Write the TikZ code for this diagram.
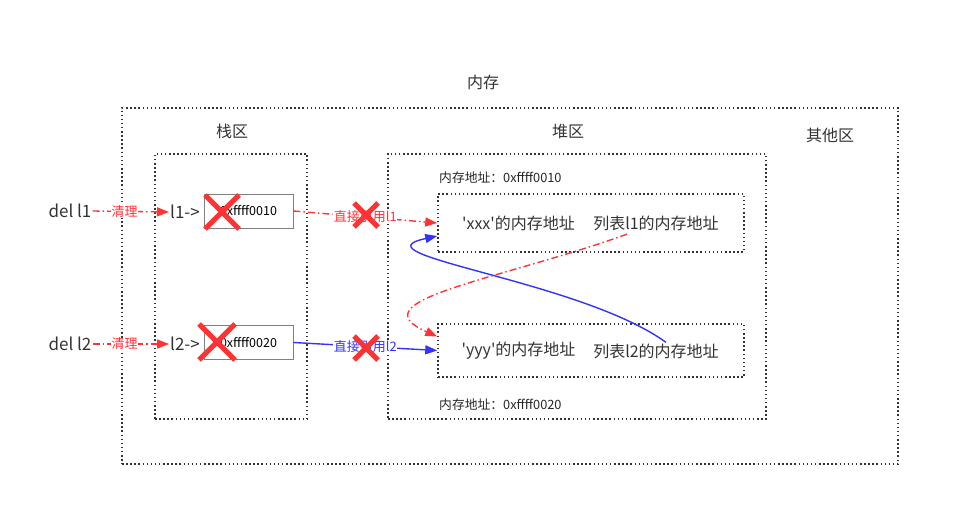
\documentclass[tikz,border=0pt]{standalone}
\usepackage{fontspec}
\newfontfamily\cjk{Noto Sans CJK SC}
\usetikzlibrary{arrows.meta,calc}
\definecolor{myred}{HTML}{FF3333}
\definecolor{myblue}{HTML}{3333FF}
\definecolor{dotc}{HTML}{333333}
\tikzset{
  region/.style={draw=dotc,line width=1.5pt,dash pattern=on 1.5pt off 2.6pt},
  valbox/.style={draw=gray,line width=0.9pt,minimum width=89pt,minimum height=34pt,inner sep=0pt,font=\cjk\fontsize{12.5}{12.5}\selectfont},
  big/.style={font=\cjk\fontsize{17}{17}\selectfont,text=black!80,inner sep=1pt},
  mid/.style={font=\cjk\fontsize{16}{16}\selectfont,text=black!80,inner sep=1pt},
  small/.style={font=\cjk\fontsize{12.8}{12.8}\selectfont,text=black!85,inner sep=1pt},
  redarrow/.style={draw=myred,line width=1.4pt,dash pattern=on 7pt off 3pt on 1.5pt off 3pt,-{Triangle[length=12pt,width=9pt]}},
  bluearrow/.style={draw=myblue,line width=1.4pt,-{Triangle[length=12pt,width=9pt]}},
  redlbl/.style={font=\cjk\fontsize{13}{13}\selectfont,text=myred,fill=white,inner sep=0.5pt},
  bluelbl/.style={font=\cjk\fontsize{13}{13}\selectfont,text=myblue,fill=white,inner sep=0.5pt},
  cross/.style={draw=myred,line width=5pt},
}
\begin{document}
\begin{tikzpicture}[x=1pt,y=-1pt]
\useasboundingbox (0,0) rectangle (960,526);
% regions
\node[region,minimum width=776pt,minimum height=356pt,inner sep=0pt] (mem) at (510,286) {};
\node[mid] (memlbl) at (483,82) {内存};
\node[region,minimum width=152pt,minimum height=265pt,inner sep=0pt] (stack) at (231,286.5) {};
\node[mid] (stacklbl) at (232,131) {栈区};
\node[region,minimum width=378pt,minimum height=265pt,inner sep=0pt] (heap) at (577,286.5) {};
\node[mid] (heaplbl) at (568,131) {堆区};
\node[mid] (otherlbl) at (830,135) {其他区};
% heap objects
\node[region,minimum width=306pt,minimum height=58pt,inner sep=0pt] (obj1) at (591,223) {};
\node[region,minimum width=306pt,minimum height=53pt,inner sep=0pt] (obj2) at (591,350.5) {};
\node[small,anchor=west] (addr1) at (438,178) {内存地址：0xffff0010};
\node[small,anchor=west] (addr2) at (438,405) {内存地址：0xffff0020};
\node[mid] (t1a) at (518.5,223.5) {'xxx'的内存地址};
\node[mid] (t1b) at (656,223.5) {列表l1的内存地址};
\node[mid] (t2a) at (518.5,351) {'yyy'的内存地址};
\node[mid] (t2b) at (656,351) {列表l2的内存地址};
% stack
\node[big] (l1) at (185,212) {l1->};
\node[big] (l2) at (185,344) {l2->};
\node[valbox] (v1) at (248.5,211) {0xffff0010};
\node[valbox] (v2) at (248.5,342.5) {0xffff0020};
\node[big] (del1) at (70,211) {del l1};
\node[big] (del2) at (70,344) {del l2};
% connectors
\draw[redarrow] (del1.east) -- node[redlbl,pos=0.42] (c1) {清理} (l1.west);
\draw[redarrow] (del2.east) -- node[redlbl,pos=0.42] (c2) {清理} (l2.west);
\draw[redarrow] (v1.east) -- node[redlbl,pos=0.5] (r1) {直接引用l1} (obj1.west);
\draw[bluearrow] (v2.east) -- node[bluelbl,pos=0.5] (r2) {直接引用l2} (obj2.west);
\coordinate (bstart) at ($(t2b.north)+(10,0)$);
\coordinate (bend) at ($(obj1.west)+(0,13)$);
\draw[bluearrow] (bstart) .. controls (580,280) and (350,255) .. (bend);
\coordinate (rstart) at ($(t1b.south)+(-29,2)$);
\coordinate (rend) at ($(obj2.west)+(0,-14)$);
\draw[redarrow] (rstart) .. controls (500,280) and (355,300) .. (rend);
% crosses
\foreach \cx/\cy/\h in {222/212/17, 217/342/18, 366/215/12, 366/348/12}{
  \draw[cross] (\cx-\h,\cy-\h) -- (\cx+\h,\cy+\h);
  \draw[cross] (\cx-\h,\cy+\h) -- (\cx+\h,\cy-\h);
}
\end{tikzpicture}
\end{document}
